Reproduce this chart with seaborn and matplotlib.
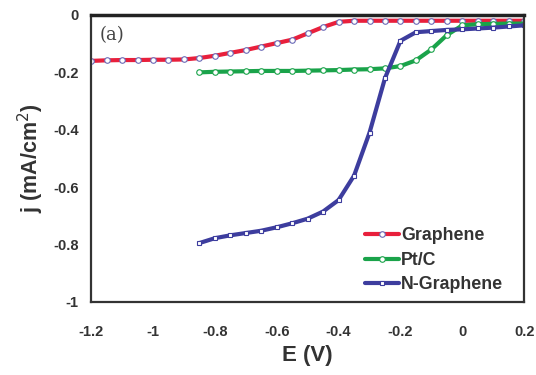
import numpy as np
import pandas as pd
import matplotlib
matplotlib.use("Agg")
import matplotlib.pyplot as plt
import seaborn as sns

# Data
E_graphene = [-1.2, -1.15, -1.1, -1.05, -1.0, -0.95, -0.9, -0.85, -0.8, -0.75, -0.7,
              -0.65, -0.6, -0.55, -0.5, -0.45, -0.4, -0.35, -0.3, -0.25, -0.2, -0.15,
              -0.1, -0.05, 0.0, 0.05, 0.1, 0.15, 0.2]
j_graphene = [-0.160, -0.158, -0.157, -0.157, -0.156, -0.156, -0.155, -0.150, -0.142, -0.132, -0.122,
              -0.110, -0.098, -0.086, -0.064, -0.042, -0.024, -0.020, -0.020, -0.020, -0.020, -0.020,
              -0.020, -0.020, -0.020, -0.020, -0.020, -0.020, -0.020]

E_ptc = [-0.85, -0.8, -0.75, -0.7, -0.65, -0.6, -0.55, -0.5, -0.45, -0.4, -0.35,
         -0.3, -0.25, -0.2, -0.15, -0.1, -0.05, 0.0, 0.05, 0.1, 0.15, 0.2]
j_ptc = [-0.200, -0.198, -0.197, -0.196, -0.195, -0.195, -0.195, -0.194, -0.193, -0.192, -0.190,
         -0.189, -0.186, -0.178, -0.158, -0.120, -0.070, -0.036, -0.032, -0.031, -0.030, -0.030]

E_ngraphene = [-0.85, -0.8, -0.75, -0.7, -0.65, -0.6, -0.55, -0.5, -0.45, -0.4, -0.35,
               -0.3, -0.25, -0.2, -0.15, -0.1, -0.05, 0.0, 0.05, 0.1, 0.15, 0.2]
j_ngraphene = [-0.795, -0.778, -0.768, -0.760, -0.752, -0.740, -0.726, -0.710, -0.685, -0.645, -0.560,
               -0.410, -0.220, -0.090, -0.060, -0.056, -0.052, -0.050, -0.047, -0.044, -0.040, -0.036]

series_names = ["Graphene", "Pt/C", "N-Graphene"]
colors = ["#e8203c", "#1aa34a", "#3d3d9e"]
edge_colors = ["#6a6ab8", "#1aa34a", "#3d3d9e"]
marker_shapes = ["o", "o", "s"]
x_ticks = [-1.2, -1, -0.8, -0.6, -0.4, -0.2, 0, 0.2]
y_ticks = [0, -0.2, -0.4, -0.6, -0.8, -1]

sns.set_style("white")
plt.rcParams["font.family"] = ["Liberation Sans", "DejaVu Sans"]

fig = plt.figure(figsize=(5.36, 3.75), dpi=100)
ax = fig.add_axes([0.170, 0.195, 0.808, 0.765])

data = [(E_graphene, j_graphene), (E_ptc, j_ptc), (E_ngraphene, j_ngraphene)]
for (xs, ys), name, c, ec, m in zip(data, series_names, colors, edge_colors, marker_shapes):
    sns.lineplot(x=xs, y=ys, color=c, linewidth=3, marker=m,
                 markersize=3.3 if m == "s" else 4,
                 markerfacecolor="white", markeredgecolor=ec, markeredgewidth=0.8,
                 sort=False, label=name, ax=ax)

ax.set_xlim(-1.2, 0.2)
ax.set_ylim(-1, 0)
ax.set_xticks(x_ticks)
ax.set_xticklabels(["-1.2", "-1", "-0.8", "-0.6", "-0.4", "-0.2", "0", "0.2"])
ax.set_yticks(y_ticks)
ax.set_yticklabels(["0", "-0.2", "-0.4", "-0.6", "-0.8", "-1"])
ax.tick_params(direction="in", length=3, width=1.2, labelsize=10.5)
ax.tick_params(axis="x", pad=17)
ax.tick_params(axis="y", pad=9)
for lab in ax.get_xticklabels() + ax.get_yticklabels():
    lab.set_fontweight("bold")
    lab.set_color("#333333")

for side in ["left", "bottom", "right"]:
    ax.spines[side].set_color("#333333")
    ax.spines[side].set_linewidth(1.6)
ax.spines["top"].set_color("#222222")
ax.spines["top"].set_linewidth(2.5)

ax.set_xlabel("E (V)", fontsize=16, fontweight="bold", color="#333333", labelpad=4)
ax.set_ylabel("j (mA/cm$^2$)", fontsize=15.5, fontweight="bold", color="#333333", labelpad=5)

ax.text(0.02, 0.96, "(a)", transform=ax.transAxes, ha="left", va="top",
        fontsize=13, family="DejaVu Serif", color="#444444")

leg = ax.legend(loc="lower right", bbox_to_anchor=(0.985, -0.02), frameon=False,
                fontsize=12.8, handlelength=1.9, handletextpad=0.15, labelspacing=0.42,
                borderaxespad=0.4)
for t in leg.get_texts():
    t.set_fontweight("bold")
    t.set_color("#333333")

fig.savefig("out.png", dpi=100)
